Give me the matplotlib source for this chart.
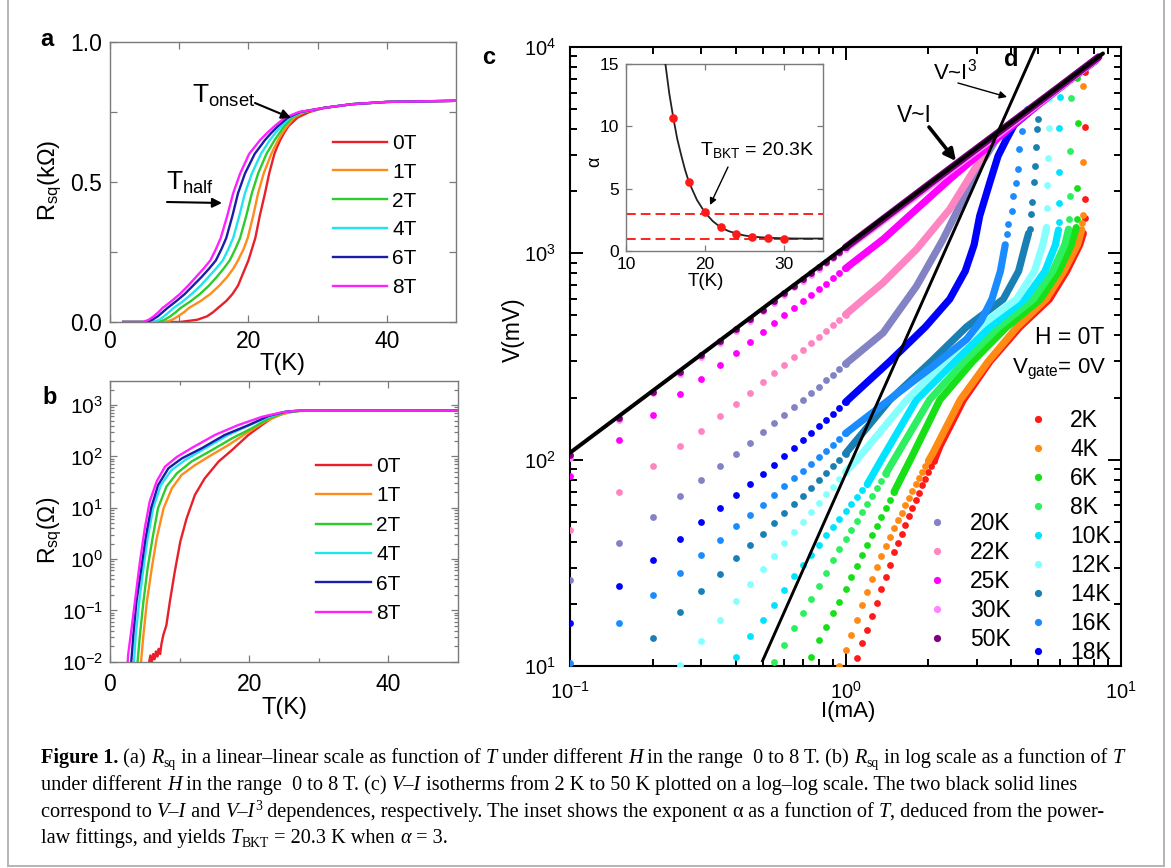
import matplotlib
matplotlib.use('Agg')
import matplotlib.pyplot as plt
from matplotlib.lines import Line2D
from matplotlib.ticker import LogLocator, NullFormatter, FixedLocator
from matplotlib.font_manager import FontProperties
from matplotlib.transforms import IdentityTransform

# ======================= DATA =======================
fields = ['0T', '1T', '2T', '4T', '6T', '8T']
field_colors = ['#e8202a', '#ff8c1a', '#2ccc2c', '#22e4ee', '#1c1ca8', '#ff22ff']

# panel a : R_sq (kOhm) vs T ; temperatures (K) at which each curve reaches the shared resistance levels
Ra_levels = [0, 0, 0.008, 0.02, 0.035, 0.05, 0.075, 0.10, 0.13, 0.16, 0.19, 0.22, 0.26, 0.30, 0.38, 0.46,
             0.53, 0.60, 0.625, 0.65, 0.675, 0.70, 0.73, 0.75, 0.765, 0.778, 0.786, 0.79]
Ta_0T = [1.9, 10.1, 12.6, 14.0, 14.9, 15.6, 16.8, 17.7, 18.5, 19.0, 19.5, 20.0, 20.5, 21.0, 21.65, 22.4,
         23.0, 23.75, 24.15, 24.6, 25.15, 25.8, 27.1, 28.8, 31, 35, 40, 50]
Ta_1T = [1.9, 8.0, 9.0, 9.8, 10.7, 11.4, 13.1, 14.5, 15.8, 16.9, 17.8, 18.5, 19.3, 19.9, 20.7, 21.4,
         22.2, 23.3, 23.8, 24.3, 24.9, 25.6, 26.6, 28.1, 31, 35, 40, 50]
Ta_2T = [1.9, 7.0, 7.9, 8.7, 9.5, 10.2, 11.7, 13.0, 14.3, 15.4, 16.4, 17.3, 18.1, 18.8, 19.7, 20.5,
         21.4, 22.6, 23.2, 23.8, 24.5, 25.2, 26.3, 27.9, 31, 35, 40, 50]
Ta_4T = [1.9, 6.3, 7.1, 7.8, 8.5, 9.2, 10.6, 11.8, 13.1, 14.2, 15.3, 16.3, 17.1, 17.8, 18.7, 19.5,
         20.5, 21.8, 22.45, 23.1, 23.9, 24.8, 26.0, 27.7, 31, 35, 40, 50]
Ta_6T = [1.9, 5.3, 6.1, 6.9, 7.6, 8.3, 9.6, 10.8, 12.0, 13.2, 14.3, 15.3, 16.1, 16.8, 17.7, 18.5,
         19.5, 20.9, 21.65, 22.4, 23.3, 24.3, 25.7, 27.5, 31, 35, 40, 50]
Ta_8T = [1.9, 4.8, 5.6, 6.3, 7.0, 7.6, 8.9, 10.1, 11.3, 12.4, 13.5, 14.5, 15.3, 16.0, 16.95, 17.8,
         18.8, 20.1, 20.9, 21.7, 22.7, 23.8, 25.3, 27.3, 31, 35, 40, 50]

# panel b : R_sq (Ohm) vs T, log scale
Tb_0T = [5.5, 5.8, 6.0, 6.2, 6.4, 6.6, 6.8, 7.0, 7.2, 7.4, 7.66, 8.1, 8.6, 9.3, 10.1, 11.0, 12.2, 13.6, 15.6, 17.5, 19.9, 21.8, 23.5, 25.6, 27.5, 30, 40, 50]
Rb_0T = [0.008, 0.0132, 0.0095, 0.0141, 0.0112, 0.0158, 0.0126, 0.0178, 0.0141, 0.0224, 0.0331, 0.0513, 0.148, 0.562, 2.19, 6.17, 17.8, 37.2, 79.4, 132, 263, 407, 589, 741, 776, 776, 778, 780]
Tb_1T = [4.4, 4.8, 5.3, 6.0, 6.7, 7.7, 8.9, 10.3, 12.2, 14.6, 17.0, 19.9, 22.3, 24.7, 26.6, 28, 30, 40, 50]
Rb_1T = [0.008, 0.033, 0.148, 0.66, 2.5, 9.8, 24, 43.7, 67.6, 107, 166, 302, 479, 661, 759, 776, 776, 778, 780]
Tb_2T = [3.9, 4.3, 4.8, 5.4, 6.1, 6.9, 8.1, 9.6, 11.7, 14.6, 17.5, 20.4, 22.8, 25.2, 27.4, 30, 40, 50]
Rb_2T = [0.008, 0.033, 0.148, 0.66, 2.5, 9.8, 25.7, 46.8, 79.4, 132, 224, 355, 550, 724, 776, 776, 778, 780]
Tb_4T = [3.4, 3.7, 4.2, 4.8, 5.4, 6.2, 7.3, 8.8, 10.8, 13.7, 17.0, 19.9, 22.8, 25.2, 27.2, 30, 40, 50]
Rb_4T = [0.008, 0.033, 0.148, 0.66, 2.5, 9.8, 27.5, 53.7, 85.1, 145, 263, 398, 589, 741, 776, 776, 778, 780]
Tb_6T = [3.0, 3.35, 3.8, 4.5, 5.1, 5.9, 6.9, 8.4, 10.3, 13.2, 16.5, 19.9, 22.8, 25.2, 27, 30, 40, 50]
Rb_6T = [0.008, 0.033, 0.148, 0.66, 2.5, 9.8, 27.5, 58.9, 91.2, 145, 263, 407, 617, 741, 776, 776, 778, 780]
Tb_8T = [2.5, 2.6, 3.1, 3.7, 4.3, 5.0, 5.7, 6.7, 7.9, 9.6, 11.7, 15.1, 18.4, 21.8, 24.7, 26.6, 30, 40, 50]
Rb_8T = [0.008, 0.0135, 0.0447, 0.2, 0.89, 3.98, 13.2, 32.4, 63.1, 97.7, 145, 263, 407, 589, 724, 776, 776, 778, 780]

# panel c : V (mV) vs I (mA) isotherms
temps_right = ['2K', '4K', '6K', '8K', '10K', '12K', '14K', '16K', '18K']
temps_left = ['20K', '22K', '25K', '30K', '50K']
temp_colors = {'2K': '#ff1a1a', '4K': '#ff8a14', '6K': '#18e018', '8K': '#2cf060',
               '10K': '#00e4ff', '12K': '#86ffff', '14K': '#1a80b4', '16K': '#1a8cff',
               '18K': '#0000ff', '20K': '#8282c4', '22K': '#ff84c2', '25K': '#ff00ff',
               '30K': '#ff84ff', '50K': '#800080'}

I_grid = [0.10, 0.15, 0.20, 0.25, 0.30, 0.35, 0.40, 0.45, 0.50, 0.55, 0.60, 0.65, 0.70, 0.75, 0.80, 0.85, 0.90, 0.95, 1.00]

I_lo_2K = [1.10, 1.15, 1.20, 1.25, 1.30, 1.35, 1.40, 1.45, 1.50, 1.55, 1.60, 1.65, 1.70, 1.75, 1.80, 1.85, 1.90, 1.95, 2.00, 2.05, 2.10]
V_lo_2K = [10.9, 12.9, 14.9, 17.4, 20.2, 23.5, 27.0, 31.0, 35.5, 39.5, 43.5, 48.5, 53.5, 58.5, 63.5, 69.0, 75.0, 81.0, 87.0, 93.0, 99.0]
I_bd_2K = [2.10, 2.20, 2.68, 3.35, 4.30, 5.50, 6.35, 7.08, 7.30]
V_bd_2K = [99, 116, 195, 300, 440, 600, 820, 1100, 1250]
I_hi_2K = [7.38, 7.39, 7.40, 7.42]
V_hi_2K = [1490, 1828, 4100, 7540]

I_lo_4K = [0.95, 1.00, 1.05, 1.10, 1.15, 1.20, 1.25, 1.30, 1.35, 1.40, 1.45, 1.50, 1.55, 1.60, 1.65, 1.70, 1.75, 1.80, 1.85, 1.90, 1.95, 2.00]
V_lo_4K = [10.0, 12.0, 14.1, 16.8, 19.7, 22.9, 26.3, 30.3, 34.1, 38.0, 42.0, 46.4, 50.8, 55.4, 60.2, 65.3, 70.5, 75.8, 81.3, 87.0, 92.7, 98.6]
I_bd_4K = [2.00, 2.08, 2.61, 3.30, 4.20, 5.35, 6.20, 6.95, 7.20]
V_bd_4K = [98.6, 108, 195, 300, 440, 600, 820, 1100, 1300]
I_hi_4K = [7.22, 7.26, 7.26, 7.28]
V_hi_4K = [1410, 1528, 2773, 6490]

I_lo_6K = [0.75, 0.80, 0.85, 0.90, 0.95, 1.00, 1.05, 1.10, 1.15, 1.20, 1.25, 1.30, 1.35, 1.40, 1.45, 1.50]
V_lo_6K = [11.1, 13.3, 15.5, 18.0, 20.4, 23.6, 27.0, 30.6, 34.6, 38.6, 43.2, 47.8, 52.9, 58.1, 63.7, 69.7]
I_bd_6K = [1.50, 1.72, 2.20, 2.90, 3.85, 5.10, 5.95, 6.60, 6.88]
V_bd_6K = [69.7, 100, 195, 300, 440, 600, 820, 1100, 1333]
I_hi_6K = [6.93, 6.95, 6.97, 6.95]
V_hi_6K = [1473, 2070, 4305, 7050]

I_lo_8K = [0.55, 0.60, 0.65, 0.70, 0.75, 0.80, 0.85, 0.90, 0.95, 1.00, 1.05, 1.10, 1.15, 1.20, 1.25, 1.30, 1.35, 1.40]
V_lo_8K = [10.4, 12.6, 15.2, 18.0, 21.1, 24.5, 28.2, 32.7, 36.8, 41.2, 45.8, 50.7, 55.9, 61.3, 67.0, 73.0, 79.0, 85.5]
I_bd_8K = [1.40, 1.50, 2.02, 2.70, 3.60, 4.81, 5.65, 6.25, 6.45]
V_bd_8K = [85.5, 100, 195, 300, 440, 600, 820, 1100, 1309]
I_hi_8K = [6.50, 6.53, 6.52, 6.58]
V_hi_8K = [1462, 1897, 3120, 5640]

I_lo_10K = [0.40, 0.45, 0.50, 0.55, 0.60, 0.65, 0.70, 0.75, 0.80, 0.85, 0.90, 0.95, 1.00, 1.05, 1.10, 1.15, 1.20]
V_lo_10K = [11.0, 13.9, 16.8, 19.8, 23.4, 27.2, 30.9, 34.7, 38.8, 43.0, 47.3, 51.8, 56.4, 61.0, 66.0, 71.0, 76.0]
I_bd_10K = [1.20, 1.35, 1.81, 2.50, 3.35, 4.48, 5.30, 5.78, 5.93]
V_bd_10K = [76, 100, 195, 300, 440, 600, 820, 1100, 1298]
I_hi_10K = [5.95, 5.97, 5.97, 5.98, 5.99]
V_hi_10K = [1418, 1762, 2466, 4030, 5700]

I_lo_12K = [0.25, 0.30, 0.35, 0.40, 0.45, 0.50, 0.55, 0.60, 0.65, 0.70, 0.75, 0.80, 0.85, 0.90, 0.95, 1.00]
V_lo_12K = [10.1, 13.2, 16.8, 20.7, 25.0, 29.5, 34.3, 39.3, 44.6, 50.1, 55.8, 61.7, 67.8, 74.0, 80.4, 87.0]
I_bd_12K = [1.00, 1.10, 1.67, 2.30, 3.05, 4.18, 4.85, 5.20, 5.37]
V_bd_12K = [87, 100, 195, 300, 440, 600, 820, 1100, 1334]
I_hi_12K = [5.39, 5.41, 5.43, 5.46, 5.50]
V_hi_12K = [1667, 2136, 2910, 4030, 5600]

I_lo_14K = [0.20, 0.25, 0.30, 0.35, 0.40, 0.45, 0.50, 0.55, 0.60, 0.65, 0.70, 0.75, 0.80, 0.85, 0.90, 0.95, 1.00]
V_lo_14K = [13.7, 18.2, 23.0, 28.0, 33.2, 38.4, 43.7, 49.2, 54.9, 60.8, 66.8, 73.0, 79.4, 86.0, 92.7, 99.6, 107]
I_bd_14K = [1.00, 1.45, 2.05, 2.75, 3.74, 4.25, 4.50, 4.62]
V_bd_14K = [107, 195, 300, 440, 600, 820, 1100, 1250]
I_hi_14K = [4.68, 4.73, 4.76, 4.82, 4.87, 4.92, 4.97, 5.01]
V_hi_14K = [1309, 1545, 1775, 2220, 2655, 3260, 4000, 4470]

V_lo_16K = [10.3, 16.1, 22.1, 28.2, 34.5, 40.9, 47.5, 53.9, 60.5, 67.3, 74.2, 81.2, 88.4, 95.7, 103, 110, 118, 126, 134]
I_bd_16K = [1.00, 1.44, 2.08, 2.75, 3.10, 3.40, 3.65, 3.80]
V_bd_16K = [134, 195, 284, 383, 470, 600, 820, 1100]
I_hi_16K = [3.85, 3.90, 4.01, 4.07, 4.15, 4.22, 4.28, 4.36, 4.55]
V_hi_16K = [1236, 1383, 1600, 1897, 2200, 2560, 3200, 3930, 5000]

V_lo_18K = [16.1, 24.5, 32.7, 41.2, 49.8, 58.5, 67.1, 76.5, 85.2, 94.5, 104, 114, 124, 134, 145, 156, 167, 178, 190]
I_bd_18K = [1.00, 1.45, 1.95, 2.39, 2.72, 2.93, 3.07, 3.34, 3.58, 3.84, 4.10, 5.00, 6.50, 8.10]
V_bd_18K = [190, 300, 440, 600, 820, 1100, 1518, 2203, 2965, 3575, 4200, 5250, 6900, 8600]

V_lo_20K = [26.2, 39.4, 52.7, 66.4, 79.4, 93.5, 107, 121, 136, 150, 165, 180, 195, 210, 226, 242, 258, 274, 291]
I_bd_20K = [1.00, 1.37, 1.81, 2.26, 2.67, 3.07, 3.53, 4.00, 5.00, 6.50, 8.10]
V_bd_20K = [291, 412, 693, 1170, 1828, 2655, 3575, 4250, 5300, 6950, 8650]

V_lo_22K = [45.7, 69.4, 92.8, 116, 137, 162, 187, 211, 238, 262, 288, 313, 339, 366, 393, 420, 448, 476, 505]
I_bd_22K = [1.00, 1.37, 1.81, 2.39, 2.99, 3.34, 3.70, 5.00, 6.50, 8.20]
V_bd_22K = [505, 721, 1045, 1637, 2655, 3445, 3900, 5300, 6950, 8750]

V_lo_25K = [83, 124, 165, 207, 247, 289, 330, 373, 417, 458, 500, 542, 585, 628, 670, 713, 757, 800, 845]
I_bd_25K = [1.00, 1.37, 1.81, 2.39, 3.16, 4.20, 5.50, 7.00, 8.20]
V_bd_25K = [845, 1170, 1637, 2287, 3140, 4350, 5800, 7450, 8800]

V_lo_30K = [102, 156, 211, 261, 315, 368, 420, 469, 525, 577, 630, 683, 736, 789, 842, 894, 947, 1000, 1052]
I_bd_30K = [1.00, 2.00, 4.00, 6.00, 8.20]
V_bd_30K = [1052, 2100, 4220, 6380, 8750]

V_lo_50K = [105, 159, 213, 266, 320, 374, 428, 481, 534, 588, 641, 694, 748, 801, 855, 908, 961, 1015, 1068]
I_bd_50K = [1.00, 2.00, 4.00, 6.00, 8.30]
V_bd_50K = [1068, 2150, 4300, 6450, 8950]

# power-law guide lines
VI_I = [0.1, 8.6]
VI_V = [108, 9300]
VI3_I = [0.5, 4.92]
VI3_V = [10.6, 10100]

# inset : exponent alpha vs T
alpha_T = [16, 18, 20, 22, 24, 26, 28, 30]
alpha_vals = [10.7, 5.5, 3.1, 1.9, 1.35, 1.15, 1.05, 1.0]
fit_T = [15.0, 15.5, 16, 16.5, 17, 17.5, 18, 19, 20, 21, 22, 23, 24, 25, 26, 28, 30, 32, 35]
fit_alpha = [15.0, 12.6, 10.7, 9.0, 7.7, 6.5, 5.5, 4.1, 3.1, 2.4, 1.9, 1.6, 1.4, 1.25, 1.15, 1.06, 1.02, 1.0, 1.0]
alpha_marks = [3, 1]

# ======================= STYLE / LAYOUT =======================
W, H = 1171, 868
plt.rcParams['font.family'] = ['Liberation Sans', 'DejaVu Sans']
plt.rcParams['mathtext.fontset'] = 'custom'
plt.rcParams['mathtext.rm'] = 'Liberation Sans'
plt.rcParams['mathtext.it'] = 'Liberation Sans:italic'
plt.rcParams['mathtext.bf'] = 'Liberation Sans:bold'
plt.rcParams['axes.unicode_minus'] = False

fig = plt.figure(figsize=(W / 100, H / 100), dpi=100)
PIX = IdentityTransform()


def rect(l, t, r, b):
    return [l / W, 1 - b / H, (r - l) / W, (b - t) / H]


def P(x, y):
    return (x, H - y)


GREY = '#7a7a7a'


def grey_frame(ax):
    for s in ax.spines.values():
        s.set_color(GREY)
        s.set_linewidth(1.0)
    ax.tick_params(which='both', direction='in', top=True, right=True, color=GREY, width=0.9)
    ax.tick_params(which='major', length=5)
    ax.tick_params(which='minor', length=5)


# ---------------- panel a ----------------
axa = fig.add_axes(rect(110, 42, 456, 322))
for lab, T, col in zip(fields, [Ta_0T, Ta_1T, Ta_2T, Ta_4T, Ta_6T, Ta_8T], field_colors):
    axa.plot(T, Ra_levels, color=col, lw=1.7, label=lab, solid_joinstyle='round')
axa.set_xlim(0, 50)
axa.set_ylim(0, 1.0)
axa.set_xticks([0, 20, 40])
axa.xaxis.set_minor_locator(FixedLocator([10, 30]))
axa.set_yticks([0, 0.5, 1.0])
axa.set_yticklabels(['0.0', '0.5', '1.0'])
axa.yaxis.set_minor_locator(FixedLocator([0.25, 0.75]))
grey_frame(axa)
axa.tick_params(labelsize=16.5, pad=6)
axa.set_xlabel('T(K)', fontsize=17, va='center')
axa.xaxis.set_label_coords(0.5, (322 - 364) / 280)
axa.set_ylabel(r'R$_{\mathregular{sq}}$(k$\Omega$)', fontsize=17, va='center')
axa.yaxis.set_label_coords((50 - 110) / 346, (322 - 180) / 280)
axa.legend(loc='upper left', bbox_to_anchor=P(333, 134), bbox_transform=PIX, frameon=False,
           fontsize=15, handlelength=2.6, handletextpad=0.25, labelspacing=0.47,
           borderpad=0, borderaxespad=0)
axa.annotate('', xy=P(291, 118), xytext=P(255, 103), xycoords='figure pixels', textcoords='figure pixels',
             arrowprops=dict(arrowstyle='-|>', color='k', lw=1.5, mutation_scale=14, shrinkA=0, shrinkB=0))
axa.annotate('', xy=P(222, 203), xytext=P(167, 202), xycoords='figure pixels', textcoords='figure pixels',
             arrowprops=dict(arrowstyle='-|>', color='k', lw=1.5, mutation_scale=14, shrinkA=0, shrinkB=0))
fig.text(192 / W, 1 - 96 / H, r'T$_{\mathregular{onset}}$', fontsize=19, ha='left', va='center')
fig.text(166 / W, 1 - 183 / H, r'T$_{\mathregular{half}}$', fontsize=19, ha='left', va='center')

# ---------------- panel b ----------------
axb = fig.add_axes(rect(110, 381, 458, 661.7))
for lab, T, R, col in zip(fields, [Tb_0T, Tb_1T, Tb_2T, Tb_4T, Tb_6T, Tb_8T],
                          [Rb_0T, Rb_1T, Rb_2T, Rb_4T, Rb_6T, Rb_8T], field_colors):
    axb.plot(T, R, color=col, lw=1.7, label=lab, solid_joinstyle='round')
axb.set_yscale('log')
axb.set_xlim(0, 50)
axb.set_ylim(0.01, 2950)
axb.set_xticks([0, 20, 40])
axb.xaxis.set_minor_locator(FixedLocator([10, 30]))
axb.yaxis.set_major_locator(LogLocator(base=10, numticks=12))
axb.yaxis.set_minor_locator(LogLocator(base=10, subs=range(2, 10), numticks=12))
axb.yaxis.set_minor_formatter(NullFormatter())
grey_frame(axb)
axb.tick_params(which='minor', length=3)
axb.tick_params(axis='x', labelsize=16.5, pad=8)
axb.tick_params(axis='y', labelsize=15, pad=5)
axb.set_xlabel('T(K)', fontsize=17, va='center')
axb.xaxis.set_label_coords(0.5, (661.7 - 708) / 280.7)
axb.set_ylabel(r'R$_{\mathregular{sq}}$($\Omega$)', fontsize=16.5, va='center')
axb.yaxis.set_label_coords((50 - 110) / 348, (661.7 - 530) / 280.7)
axb.legend(loc='upper left', bbox_to_anchor=P(316, 457), bbox_transform=PIX, frameon=False,
           fontsize=15, handlelength=2.65, handletextpad=0.25, labelspacing=0.5,
           borderpad=0, borderaxespad=0)

# ---------------- panel c ----------------
axc = fig.add_axes(rect(570, 47, 1121, 666))
axc.set_xscale('log')
axc.set_yscale('log')
axc.set_xlim(0.1, 10)
axc.set_ylim(10, 1e4)

curves = [
    ('2K', I_lo_2K, V_lo_2K, I_bd_2K, V_bd_2K, I_hi_2K, V_hi_2K),
    ('4K', I_lo_4K, V_lo_4K, I_bd_4K, V_bd_4K, I_hi_4K, V_hi_4K),
    ('6K', I_lo_6K, V_lo_6K, I_bd_6K, V_bd_6K, I_hi_6K, V_hi_6K),
    ('8K', I_lo_8K, V_lo_8K, I_bd_8K, V_bd_8K, I_hi_8K, V_hi_8K),
    ('10K', I_lo_10K, V_lo_10K, I_bd_10K, V_bd_10K, I_hi_10K, V_hi_10K),
    ('12K', I_lo_12K, V_lo_12K, I_bd_12K, V_bd_12K, I_hi_12K, V_hi_12K),
    ('14K', I_lo_14K, V_lo_14K, I_bd_14K, V_bd_14K, I_hi_14K, V_hi_14K),
    ('16K', I_grid, V_lo_16K, I_bd_16K, V_bd_16K, I_hi_16K, V_hi_16K),
    ('18K', I_grid, V_lo_18K, I_bd_18K, V_bd_18K, [], []),
    ('20K', I_grid, V_lo_20K, I_bd_20K, V_bd_20K, [], []),
    ('22K', I_grid, V_lo_22K, I_bd_22K, V_bd_22K, [], []),
    ('25K', I_grid, V_lo_25K, I_bd_25K, V_bd_25K, [], []),
    ('30K', I_grid, V_lo_30K, I_bd_30K, V_bd_30K, [], []),
    ('50K', I_grid, V_lo_50K, I_bd_50K, V_bd_50K, [], []),
]
MS = 4.9
for k, (lab, Il, Vl, Ib, Vb, Ih, Vh) in enumerate(curves):
    col = temp_colors[lab]
    z = 3 + 0.1 * k
    axc.plot(Ib, Vb, color=col, lw=5.2, solid_capstyle='round', solid_joinstyle='round', zorder=z)
    axc.plot(Il, Vl, 'o', color=col, ms=MS, mec='none', zorder=z)
    if Ih:
        axc.plot(Ih, Vh, 'o', color=col, ms=MS, mec='none', zorder=z)

axc.plot(VI_I, VI_V, color='k', lw=2.9, zorder=10, solid_capstyle='round')
axc.plot(VI3_I, VI3_V, color='k', lw=2.1, zorder=10)

for s in axc.spines.values():
    s.set_color('k')
    s.set_linewidth(1.5)
axc.xaxis.set_major_locator(LogLocator(base=10, numticks=10))
axc.xaxis.set_minor_locator(LogLocator(base=10, subs=range(2, 10), numticks=10))
axc.yaxis.set_major_locator(LogLocator(base=10, numticks=10))
axc.yaxis.set_minor_locator(LogLocator(base=10, subs=range(2, 10), numticks=10))
axc.xaxis.set_minor_formatter(NullFormatter())
axc.yaxis.set_minor_formatter(NullFormatter())
axc.tick_params(which='both', direction='in', top=True, right=True, color='k', width=1.4)
axc.tick_params(which='major', length=9.5)
axc.tick_params(which='minor', length=5)
axc.tick_params(axis='x', labelsize=14.5, pad=11)
axc.tick_params(axis='y', labelsize=14.5, pad=10)
axc.set_xlabel('I(mA)', fontsize=16, va='center')
axc.xaxis.set_label_coords((848 - 570) / 551, (666 - 712) / 619)
axc.set_ylabel('V(mV)', fontsize=16.5, va='center')
axc.yaxis.set_label_coords((513 - 570) / 551, (666 - 330) / 619)

h_right = [Line2D([], [], ls='none', marker='o', ms=MS + 0.3, mec='none', color=temp_colors[t]) for t in temps_right]
h_left = [Line2D([], [], ls='none', marker='o', ms=MS + 0.3, mec='none', color=temp_colors[t]) for t in temps_left]
legR = axc.legend(h_right, temps_right, loc='upper left', bbox_to_anchor=P(1028.8, 409), bbox_transform=PIX,
                  frameon=False, fontsize=16.5, handlelength=0.8, handletextpad=1.0, labelspacing=0.26,
                  borderpad=0, borderaxespad=0)
axc.add_artist(legR)
axc.legend(h_left, temps_left, loc='upper left', bbox_to_anchor=P(927.8, 512), bbox_transform=PIX,
           frameon=False, fontsize=16.5, handlelength=0.8, handletextpad=1.04, labelspacing=0.26,
           borderpad=0, borderaxespad=0)

fig.text(1104 / W, 1 - 337 / H, 'H = 0T', fontsize=16.5, ha='right', va='center')
fig.text(1106 / W, 1 - 369 / H, r'V$_{\mathregular{gate}}$= 0V', fontsize=16, ha='right', va='center')
fig.text(933 / W, 1 - 72 / H, r'V~I$^{\mathregular{3}}$', fontsize=16, ha='left', va='center')
fig.text(897 / W, 1 - 116 / H, 'V~I', fontsize=16.5, ha='left', va='center')
axc.annotate('', xy=P(1007, 97), xytext=P(958, 83), xycoords='figure pixels', textcoords='figure pixels',
             arrowprops=dict(arrowstyle='-|>', color='k', lw=1.0, mutation_scale=11, shrinkA=0, shrinkB=0))
axc.annotate('', xy=P(956, 161), xytext=P(929, 127), xycoords='figure pixels', textcoords='figure pixels',
             arrowprops=dict(arrowstyle='-|>', color='k', lw=2.6, mutation_scale=17, shrinkA=0, shrinkB=0))

# ---------------- inset ----------------
axi = fig.add_axes(rect(626, 64, 823, 251))
axi.set_zorder(5)
axi.plot(fit_T, fit_alpha, color='#222222', lw=1.3, zorder=3)
axi.plot(alpha_T, alpha_vals, 'o', color='#ff1a1a', ms=6.2, mec='none', zorder=4)
for a in alpha_marks:
    axi.axhline(a, color='#ff2020', ls=(0, (5, 2.6)), lw=1.4, zorder=2)
axi.set_xlim(10, 35)
axi.set_ylim(0, 15)
axi.set_xticks([10, 20, 30])
axi.set_yticks([0, 5, 10, 15])
grey_frame(axi)
axi.tick_params(which='major', length=4)
axi.tick_params(axis='both', labelsize=12.5)
axi.tick_params(axis='y', pad=5)
axi.tick_params(axis='x', pad=4)
axi.set_xlabel('T(K)', fontsize=13.5, va='center')
axi.xaxis.set_label_coords((706 - 626) / 197, (251 - 281) / 187)
axi.set_ylabel('\u03b1', fontsize=13, va='center')
axi.yaxis.set_label_coords((595 - 626) / 197, (251 - 162) / 187)
fig.text(700 / W, 1 - 150 / H, r'T$_{\mathregular{BKT}}$ = 20.3K', fontsize=14, ha='left', va='center', zorder=10)
axi.annotate('', xy=P(710, 205), xytext=P(728, 167), xycoords='figure pixels', textcoords='figure pixels',
             arrowprops=dict(arrowstyle='-|>', color='k', lw=1.0, mutation_scale=10, shrinkA=0, shrinkB=0))

# ---------------- panel letters ----------------
for letter, x, y in [('a', 47, 40), ('b', 50, 397), ('c', 489, 57), ('d', 1011, 60)]:
    fig.text(x / W, 1 - y / H, letter, fontsize=17, weight='bold', ha='center', va='center', zorder=20)

# ---------------- caption ----------------
renderer = fig.canvas.get_renderer()
SERIF = ['Liberation Serif', 'DejaVu Serif']


def prop_for(style, fs):
    kw = dict(family=SERIF, size=fs)
    if style in ('b',):
        kw['weight'] = 'bold'
    if style in ('i', 'isup'):
        kw['style'] = 'italic'
    if style in ('sub', 'sup', 'isup'):
        kw['size'] = fs * 0.68
    return FontProperties(**kw)


def run_width(txt, prop):
    w1, _, _ = renderer.get_text_width_height_descent('X' + txt + 'X', prop, ismath=False)
    w0, _, _ = renderer.get_text_width_height_descent('XX', prop, ismath=False)
    return w1 - w0


def line_width(parts, fs):
    return sum(run_width(t, prop_for(s, fs)) for t, s in parts)


def draw_line(x, y, parts, fs):
    px_per_pt = 100 / 72
    for t, s in parts:
        prop = prop_for(s, fs)
        dy = 0
        if s == 'sub':
            dy = 0.22 * fs * px_per_pt
        elif s in ('sup', 'isup'):
            dy = -0.36 * fs * px_per_pt
        fig.text(x / W, 1 - (y + dy) / H, t, fontproperties=prop, ha='left', va='baseline')
        x += run_width(t, prop)


cap1 = [('Figure 1.', 'b'), (' (a) ', 'r'), ('R', 'i'), ('sq', 'sub'),
        (' in a linear\u2013linear scale as function of ', 'r'), ('T', 'i'), (' under different ', 'r'),
        ('H', 'i'), (' in the range  0 to 8 T. (b) ', 'r'), ('R', 'i'), ('sq', 'sub'),
        (' in log scale as a function of ', 'r'), ('T', 'i')]
cap2 = [('under different ', 'r'), ('H', 'i'), (' in the range  0 to 8 T. (c) ', 'r'), ('V\u2013I', 'i'),
        (' isotherms from 2 K to 50 K plotted on a log\u2013log scale. The two black solid lines', 'r')]
cap3 = [('correspond to ', 'r'), ('V\u2013I', 'i'), (' and ', 'r'), ('V\u2013I', 'i'), ('3', 'sup'),
        (' dependences, respectively. The inset shows the exponent ', 'r'), ('\u03b1', 'r'),
        (' as a function of ', 'r'), ('T', 'i'), (', deduced from the power-', 'r')]
cap4 = [('law fittings, and yields ', 'r'), ('T', 'i'), ('BKT', 'sub'), (' = 20.3 K when ', 'r'),
        ('\u03b1', 'i'), (' = 3.', 'r')]

fs0 = 10.0
fs_cap = fs0 * 1083.0 / line_width(cap1, fs0)
for parts, yb in zip([cap1, cap2, cap3, cap4], [763, 790, 817, 843]):
    draw_line(41, yb, parts, fs_cap)

# ---------------- outer frame ----------------
for xs, ys in [([8, 8], [0, 866]), ([1164, 1164], [0, 866]), ([8, 1164], [866, 866])]:
    fig.add_artist(Line2D([x / W for x in xs], [1 - y / H for y in ys], color='#b4b4b4', lw=1.4))

fig.savefig('out.png', dpi=100)
